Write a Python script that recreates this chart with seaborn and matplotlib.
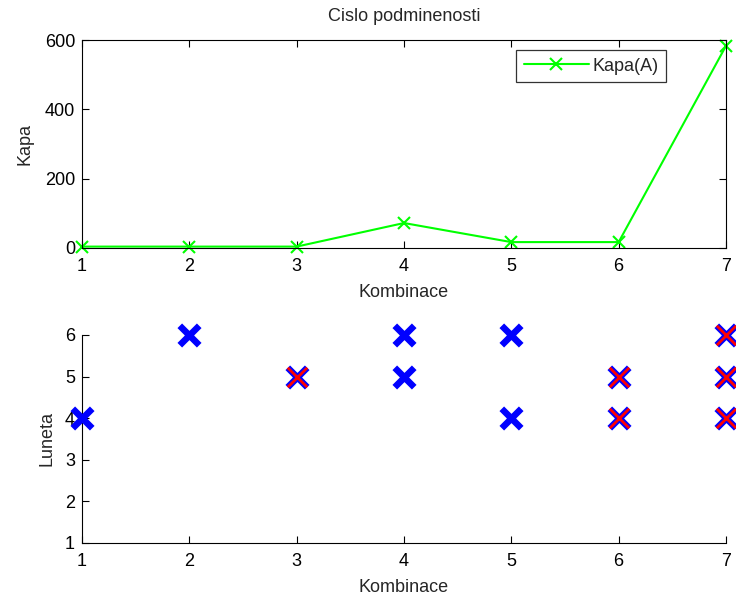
import matplotlib
matplotlib.use("Agg")
import matplotlib.pyplot as plt
import seaborn as sns
import pandas as pd

# Data
kombinace = [1, 2, 3, 4, 5, 6, 7]
kapa = [4, 4, 4, 72, 17, 17, 583]

blue_x = [1, 2, 3, 4, 4, 5, 5, 6, 6, 7, 7, 7]
blue_y = [4, 6, 5, 6, 5, 6, 4, 5, 4, 6, 5, 4]
red_x = [3, 6, 6, 7, 7, 7]
red_y = [5, 5, 4, 6, 5, 4]

sns.set_style("white")
plt.rcParams['font.family'] = ['Liberation Sans', 'DejaVu Sans']
FS = 13
plt.rcParams['font.size'] = FS

fig = plt.figure(figsize=(7.36, 5.98), dpi=100)
ax1 = fig.add_axes([0.1114, 0.5853, 0.875, 0.3478])
ax2 = fig.add_axes([0.1114, 0.0920, 0.875, 0.3478])

df1 = pd.DataFrame({"Kombinace": kombinace, "Kapa": kapa})
sns.lineplot(data=df1, x="Kombinace", y="Kapa", ax=ax1, color="#00ff00",
             linewidth=1.5, marker="x", markersize=8.5, markeredgewidth=1.5,
             markeredgecolor="#00ff00", label="Kapa(A)", clip_on=False)
ax1.set_xlim(1, 7)
ax1.set_ylim(0, 600)
ax1.set_xticks(kombinace)
ax1.set_yticks([0, 200, 400, 600])
ax1.set_title("Cislo podminenosti", fontsize=FS, pad=13.5)
ax1.set_xlabel("Kombinace", fontsize=FS, labelpad=7)
ax1.set_ylabel("Kapa", fontsize=FS, labelpad=8)
for s in ax1.spines.values():
    s.set_visible(True)
    s.set_color("black")
    s.set_linewidth(0.8)
ax1.tick_params(axis="x", pad=7)
ax1.tick_params(direction="in", length=5, width=0.8, top=True, right=True,
                bottom=True, left=True, labelsize=FS, colors="black")
ax1.tick_params(axis="y", pad=5)
leg = ax1.legend(loc="upper right", bbox_to_anchor=(0.907, 0.952), frameon=True,
                 fancybox=False, edgecolor="black", fontsize=FS,
                 handlelength=3.6, borderpad=0.42, handletextpad=0.2,
                 borderaxespad=0)
leg.get_frame().set_linewidth(0.9)

dfb = pd.DataFrame({"Kombinace": blue_x, "Luneta": blue_y})
dfr = pd.DataFrame({"Kombinace": red_x, "Luneta": red_y})
sns.scatterplot(data=dfb, x="Kombinace", y="Luneta", ax=ax2, marker="x",
                s=196, color="#0000ff", linewidth=4.7, clip_on=False, zorder=3)
sns.scatterplot(data=dfr, x="Kombinace", y="Luneta", ax=ax2, marker="x",
                s=196, color="#ff0000", linewidth=2.0, clip_on=False, zorder=4)
ax2.set_xlim(1, 7)
ax2.set_ylim(1, 6)
ax2.set_xticks(kombinace)
ax2.set_yticks([1, 2, 3, 4, 5, 6])
ax2.set_xlabel("Kombinace", fontsize=FS, labelpad=7)
ax2.set_ylabel("Luneta", fontsize=FS, labelpad=7)
for side in ["top", "right"]:
    ax2.spines[side].set_visible(False)
for side in ["left", "bottom"]:
    ax2.spines[side].set_visible(True)
    ax2.spines[side].set_color("black")
    ax2.spines[side].set_linewidth(0.8)
ax2.tick_params(direction="in", length=5, width=0.8, bottom=True, left=True,
                labelsize=FS, colors="black")
ax2.tick_params(axis="x", pad=7)
ax2.tick_params(axis="y", pad=5)

fig.savefig("out.png", dpi=100)
